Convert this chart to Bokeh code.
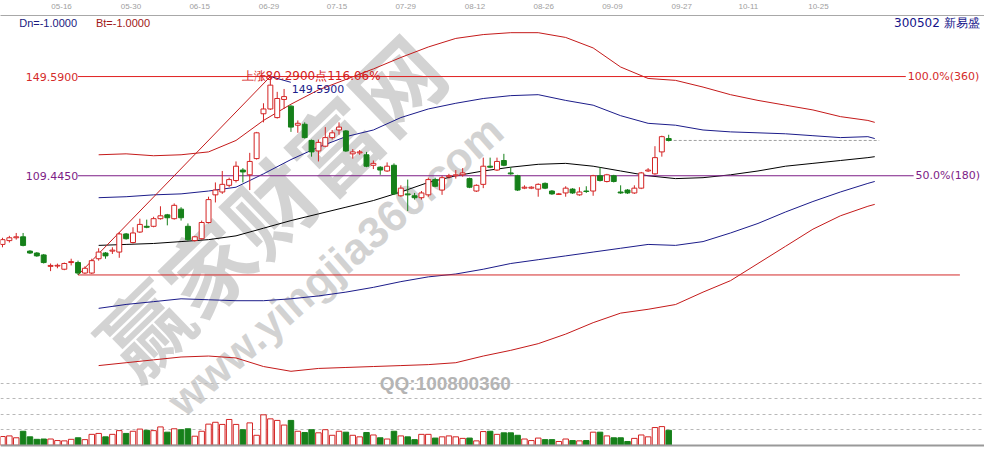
from bokeh.plotting import figure
from bokeh.models import Range1d, FixedTicker, ColumnDataSource
from bokeh.core.properties import value
from bokeh.embed import file_html
from bokeh.resources import INLINE

# ---------------- data ----------------
opens = [81.66, 83.20, 84.36, 84.74, 78.95, 78.18, 77.41, 72.78, 72.90, 71.62,
         74.32, 74.32, 70.08, 70.08, 75.87, 78.18, 78.95, 78.57, 85.90, 82.43,
         86.67, 88.99, 88.99, 92.08, 93.62, 92.08, 95.94, 88.99, 83.20, 83.97,
         90.53, 101.72, 102.88, 105.58, 107.52, 111.76, 109.83, 116.39, 134.54, 136.47,
         132.99, 140.33, 137.62, 129.90, 130.29, 123.73, 119.48, 121.41, 124.89, 127.97,
         127.59, 118.32, 118.71, 117.94, 113.69, 112.92, 111.38, 113.69, 101.34, 102.11,
         101.34, 100.57, 101.72, 107.90, 103.66, 109.06, 109.45, 109.83, 108.29, 103.27,
         105.97, 113.31, 111.76, 115.62, 110.60, 109.45, 104.43, 104.43, 104.04, 106.36,
         103.27, 101.90, 102.49, 104.04, 101.72, 103.27, 103.27, 109.45, 107.13, 109.45,
         102.88, 103.66, 102.49, 104.43, 111.38, 110.22, 119.10, 124.50]
highs = [84.36, 85.13, 86.29, 86.29, 79.34, 78.57, 77.80, 73.94, 73.90, 74.32,
         75.87, 75.09, 72.78, 75.87, 80.11, 78.57, 80.50, 86.67, 86.29, 88.60,
         92.08, 91.69, 92.85, 97.10, 94.01, 98.25, 96.71, 90.15, 85.13, 91.31,
         100.96, 106.74, 111.38, 108.67, 115.24, 112.53, 118.71, 127.20, 138.78, 149.59,
         143.41, 144.57, 138.00, 131.83, 131.06, 124.11, 124.11, 129.13, 127.97, 131.06,
         127.97, 120.25, 119.87, 119.10, 115.62, 113.31, 114.85, 114.46, 105.58, 107.90,
         102.49, 103.27, 108.67, 108.67, 109.45, 110.22, 111.76, 112.53, 108.67, 105.97,
         116.78, 116.78, 116.78, 118.32, 112.92, 109.83, 105.58, 105.20, 106.36, 106.74,
         103.66, 102.49, 105.20, 104.43, 104.81, 105.20, 109.83, 112.92, 110.22, 109.83,
         105.58, 104.04, 105.58, 110.99, 112.53, 121.41, 125.66, 126.04]
lows = [80.50, 82.43, 83.59, 80.88, 77.80, 76.64, 73.94, 70.85, 72.00, 71.24,
        73.16, 69.30, 69.69, 69.69, 75.09, 75.87, 77.80, 76.25, 83.59, 82.04,
        86.29, 88.22, 88.60, 91.69, 89.38, 91.69, 91.31, 83.20, 82.81, 83.59,
        90.15, 98.64, 102.11, 104.81, 106.74, 106.74, 103.66, 116.00, 131.06, 136.08,
        132.60, 136.47, 127.20, 126.82, 124.50, 117.17, 115.24, 121.03, 124.11, 126.04,
        119.10, 116.39, 117.94, 112.92, 112.15, 109.83, 110.99, 101.72, 100.96, 95.17,
        99.80, 99.80, 100.96, 104.81, 101.72, 108.29, 108.29, 109.06, 104.43, 102.88,
        104.43, 112.53, 111.38, 113.31, 109.83, 103.27, 104.04, 104.04, 100.96, 104.04,
        101.72, 101.72, 100.96, 102.11, 101.34, 102.49, 101.34, 107.13, 106.74, 106.74,
        102.11, 102.11, 102.11, 104.04, 110.99, 109.83, 117.17, 123.34]
closes = [83.59, 84.36, 84.74, 81.27, 78.18, 77.02, 74.32, 73.16, 73.20, 73.94,
          74.70, 70.08, 72.01, 75.09, 78.57, 77.02, 79.34, 85.90, 83.97, 86.29,
          89.76, 88.60, 92.08, 93.24, 92.46, 97.48, 92.46, 83.59, 84.74, 90.53,
          99.80, 103.66, 105.97, 107.90, 113.31, 110.99, 115.24, 126.82, 136.47, 146.12,
          140.71, 141.48, 129.13, 130.68, 124.89, 119.10, 122.96, 124.89, 126.82, 129.13,
          119.48, 119.10, 119.10, 113.31, 114.46, 111.76, 113.31, 102.11, 104.43, 101.72,
          100.57, 102.49, 107.90, 105.20, 108.67, 109.45, 109.83, 110.60, 104.81, 105.58,
          113.31, 112.92, 115.24, 113.69, 110.22, 103.66, 104.81, 104.81, 105.97, 104.43,
          102.11, 102.11, 104.43, 102.49, 102.88, 103.08, 109.45, 107.52, 109.83, 107.13,
          102.49, 102.49, 104.43, 110.60, 111.76, 116.78, 125.27, 123.73]
volumes = [28, 30, 24, 45, 27, 19, 20, 20, 15, 14,
           19, 24, 18, 35, 38, 27, 35, 47, 38, 45,
           52, 48, 47, 59, 42, 53, 50, 53, 29, 45,
           68, 74, 67, 83, 67, 50, 72, 32, 98, 85,
           80, 65, 80, 45, 41, 50, 40, 50, 32, 45,
           42, 32, 27, 41, 33, 24, 20, 45, 30, 27,
           18, 35, 35, 23, 27, 30, 27, 22, 23, 14,
           44, 45, 35, 40, 40, 32, 20, 15, 23, 18,
           18, 12, 20, 15, 14, 15, 42, 42, 30, 24,
           24, 12, 22, 33, 27, 57, 60, 48]

band_idx = [14, 18, 22, 26, 30, 34, 38, 42, 46, 50, 54, 58, 62, 66, 70,
            74, 78, 82, 86, 90, 94, 98, 102, 106, 110, 114, 118, 122, 126, 127]
upper_red = [117.94, 118.32, 117.55, 117.94, 119.10, 123.73, 131.83, 138.40, 144.18, 148.43,
             152.68, 157.31, 161.56, 165.03, 166.58, 167.35, 167.35, 165.42, 161.17, 153.45,
             148.82, 148.05, 145.34, 142.26, 139.94, 138.01, 136.08, 133.38, 131.83, 131.06]
upper_blue = [100.57, 100.96, 101.72, 102.11, 103.27, 104.81, 110.22, 116.00, 121.03, 125.27,
              127.97, 132.99, 136.47, 138.78, 140.71, 141.87, 142.26, 139.94, 138.01, 133.76,
              130.67, 129.90, 127.97, 127.20, 126.82, 126.43, 125.66, 124.89, 125.27, 124.50]
mid_black = [81.27, 81.66, 82.04, 82.81, 83.59, 85.13, 88.22, 91.31, 94.01, 96.71,
             99.41, 102.88, 106.74, 109.45, 111.38, 112.92, 114.08, 114.46, 113.31, 111.38,
             109.45, 108.29, 108.67, 109.83, 111.38, 113.31, 114.46, 115.62, 116.78, 117.17]
lower_blue = [55.79, 57.37, 58.50, 59.65, 59.27, 58.88, 58.88, 59.65, 60.81, 62.36,
              64.29, 66.60, 68.53, 69.69, 71.62, 73.94, 75.48, 77.02, 78.57, 80.11,
              81.66, 81.27, 82.81, 86.29, 90.15, 94.78, 99.03, 102.88, 106.36, 107.13]
lower_red = [32.63, 33.79, 34.95, 36.10, 36.49, 35.72, 32.25, 30.32, 31.47, 31.86,
             32.25, 32.63, 33.02, 33.79, 36.49, 38.80, 41.50, 45.37, 50.00, 53.86,
             55.41, 57.34, 62.36, 67.00, 73.94, 80.88, 87.83, 93.24, 97.10, 97.87]

date_ticks = [8.6, 18.7, 28.7, 38.8, 48.7, 58.7, 68.8, 78.8, 88.8, 98.9, 108.6, 118.8]
date_labels = ["05-16", "05-30", "06-15", "06-29", "07-15", "07-29", "08-12",
               "08-26", "09-09", "09-27", "10-11", "10-25"]
vol_grid = [50, 100, 150, 200]

# ---------------- colours ----------------
RED = "#d42424"
BAND_RED = "#c41a1a"
GREEN = "#16801a"
NAVY = "#1c1c8a"
PURPLE = "#7d1c86"
GRAY = "#a8a8a8"

# helpers mapping reference-pixel positions of annotations to data space
def X(px):
    return (px - 2) / 6.98

def Y(py):
    return 178.155 - 0.386 * py

n = len(opens)
idx = list(range(n))
up = [c >= o for o, c in zip(opens, closes)]
src = ColumnDataSource(dict(
    x=idx, o=opens, h=highs, l=lows, c=closes,
    top=[max(o, c) for o, c in zip(opens, closes)],
    bot=[min(o, c) for o, c in zip(opens, closes)],
    vol=volumes,
    line=[RED if u else GREEN for u in up],
    fill=["white" if u else GREEN for u in up],
))

p = figure(width=984, height=449, output_backend="svg", toolbar_location=None,
           x_range=Range1d(-0.29, 142.98), y_range=Range1d(-1.33, 174.3),
           x_axis_location="above", y_axis_location=None,
           min_border_left=0, min_border_right=0, min_border_top=0, min_border_bottom=0)
p.extra_y_ranges = {"vol": Range1d(-13.85, 1386.2)}
p.grid.visible = False
p.outline_line_color = None
p.background_fill_color = "white"
p.border_fill_color = "white"

ax = p.xaxis[0]
ax.ticker = FixedTicker(ticks=date_ticks)
ax.major_label_overrides = {t: s for t, s in zip(date_ticks, date_labels)}
ax.major_tick_line_color = None
ax.minor_tick_line_color = None
ax.axis_line_color = GRAY
ax.major_label_text_color = "#a0a0a0"
ax.major_label_text_font = "Liberation Sans"
ax.major_label_text_font_size = "8px"
ax.major_label_standoff = 1

# ---------------- watermarks (behind everything) ----------------
p.text(x=[X(272)], y=[Y(208)], text=["赢家财富网"], angle=0.77,
       text_font=value("Noto Sans CJK SC"), text_font_style="bold",
       text_font_size="88px", text_color="#c4c4c4", text_alpha=0.75,
       text_align="center", text_baseline="middle")
p.text(x=[X(340)], y=[Y(272)], text=["www.yingjia360.com"], angle=0.72,
       text_font=value("Liberation Sans"), text_font_style="bold",
       text_font_size="44px", text_color="#c4c4c4", text_alpha=0.75,
       text_align="center", text_baseline="middle")
p.text(x=[X(452)], y=[Y(396)], text=["QQ:100800360"],
       text_font=value("Liberation Sans"), text_font_style="bold",
       text_font_size="19px", text_color="#b4b4b4",
       text_align="center", text_baseline="middle")

# ---------------- volume panel ----------------
p.hspan(y=vol_grid, y_range_name="vol", line_color="#b8b8b8", line_dash="3 3", line_width=1)
p.vbar(x="x", width=0.8, top="vol", bottom=0, source=src, y_range_name="vol",
       fill_color="fill", line_color="line", line_width=1)
p.hspan(y=[0], y_range_name="vol", line_color="#999999", line_width=2)

# ---------------- bands ----------------
p.line(band_idx, upper_red, line_color=BAND_RED, line_width=1)
p.line(band_idx, upper_blue, line_color=NAVY, line_width=1)
p.line(band_idx, mid_black, line_color="black", line_width=1)
p.line(band_idx, lower_blue, line_color=NAVY, line_width=1)
p.line(band_idx, lower_red, line_color=BAND_RED, line_width=1)

# ---------------- gold-section lines ----------------
hi = max(highs)
lo = min(lows)
mid = (hi + lo) / 2
i_hi = highs.index(hi)
i_lo = lows.index(lo)
p.segment(x0=[i_lo], y0=[hi], x1=[X(920)], y1=[hi], line_color="#e02020", line_width=1)
p.segment(x0=[i_lo], y0=[mid], x1=[X(928)], y1=[mid], line_color=PURPLE, line_width=1)
p.segment(x0=[i_lo], y0=[lo], x1=[X(975)], y1=[lo], line_color="#d42a2a", line_width=1)
p.segment(x0=[i_lo], y0=[lo], x1=[i_hi], y1=[hi], line_color=BAND_RED, line_width=1)
p.segment(x0=[i_hi], y0=[hi], x1=[X(295)], y1=[Y(80)], line_color=NAVY, line_width=1)
p.segment(x0=[n - 1], y0=[closes[-1]], x1=[X(893)], y1=[closes[-1]],
          line_color="#a0a0a0", line_dash="3 2", line_width=1)

# ---------------- candles ----------------
p.segment(x0="x", y0="l", x1="x", y1="h", source=src, line_color="line", line_width=1)
p.vbar(x="x", width=0.72, top="top", bottom="bot", source=src,
       fill_color="fill", line_color="line", line_width=1)

# ---------------- texts ----------------
F = value("DejaVu Sans")
p.text(x=[X(79)], y=[hi], text=["149.5900"], text_font=F, text_font_size="11px",
       text_color="#d42a2a", text_align="right", text_baseline="middle")
p.text(x=[X(79)], y=[mid], text=["109.4450"], text_font=F, text_font_size="11px",
       text_color=PURPLE, text_align="right", text_baseline="middle")
p.text(x=[X(922)], y=[hi], text=["100.0%(360)"], text_font=F, text_font_size="11px",
       text_color="#d42a2a", text_align="left", text_baseline="middle")
p.text(x=[X(930)], y=[mid], text=["50.0%(180)"], text_font=F, text_font_size="11px",
       text_color=PURPLE, text_align="left", text_baseline="middle")
p.text(x=[X(245)], y=[Y(73)], text=["上涨80.2900点116.06%"], text_font=F,
       text_font_size="12px", text_color="#d42020", text_align="left",
       text_baseline="alphabetic")
p.text(x=[X(296)], y=[Y(87)], text=["149.5900"], text_font=F, text_font_size="11px",
       text_color=NAVY, text_align="left", text_baseline="middle")
p.text(x=[X(19)], y=[Y(18)], text=["Dn=-1.0000"], text_font=value("Liberation Sans"),
       text_font_size="11px", text_color="#1a1a80", text_align="left", text_baseline="middle")
p.text(x=[X(97)], y=[Y(18)], text=["Bt=-1.0000"], text_font=value("Liberation Sans"),
       text_font_size="11px", text_color="#a01818", text_align="left", text_baseline="middle")
p.text(x=[X(999)], y=[Y(18)], text=["300502  新易盛"], text_font=F,
       text_font_size="12px", text_color="#14148a", text_align="right", text_baseline="middle")

open("out.html", "w").write(file_html(p, INLINE))
